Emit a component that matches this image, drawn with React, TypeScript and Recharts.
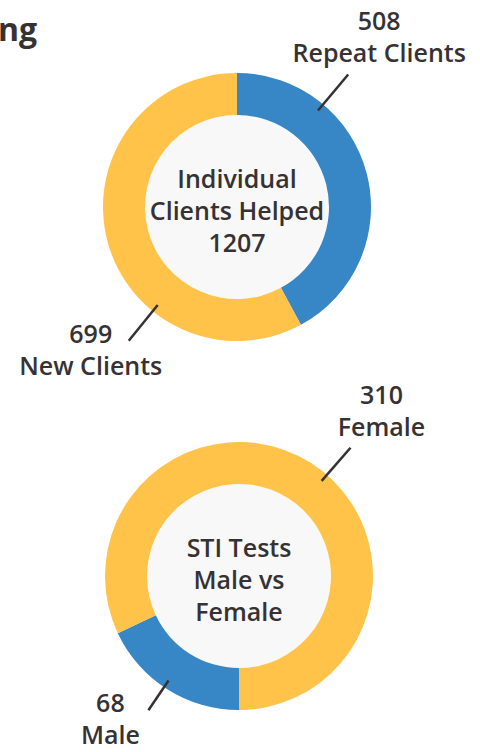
import React from 'react';
import { PieChart, Pie, Cell } from 'recharts';

const clientLabels = ['Repeat Clients', 'New Clients'];
const clientValues = [508, 699];
const clientTotal = 1207;

const stiLabels = ['Male', 'Female'];
const stiValues = [68, 310];

const BLUE = '#3786c6';
const YELLOW = '#ffc34a';
const TEXT = '#363233';
const FONT = '"Open Sans", sans-serif';

// label leader angles (degrees clockwise from 12 o'clock) and outer ends
const clientLabelAngles = [40, 219];
const clientLabelEnds = [173, 172];
const stiLabelAngles = [214, 41];
const stiLabelEnds = [162, 170];

const clientData = clientLabels.map((name, i) => ({ name, value: clientValues[i] }));
const stiData = stiLabels.map((name, i) => ({ name, value: stiValues[i] }));

const makeLabel = (angles: number[], ends: number[]) => (props: any) => {
  const { cx, cy, index, name, value } = props;
  const a = (angles[index] * Math.PI) / 180;
  const x1 = cx + 126 * Math.sin(a);
  const y1 = cy - 126 * Math.cos(a);
  const x2 = cx + ends[index] * Math.sin(a);
  const y2 = cy - ends[index] * Math.cos(a);
  const right = angles[index] < 180;
  const tx = right ? x2 + 31 : x2 - 38;
  const ty1 = right ? y2 - 54 : y2 - 8;
  const ty2 = right ? y2 - 22 : y2 + 24;
  return (
    <g>
      <line x1={x1} y1={y1} x2={x2} y2={y2} stroke={TEXT} strokeWidth={2.5} />
      <text x={tx} y={ty1} textAnchor="middle" dominantBaseline="central" fill={TEXT}
        style={{ fontFamily: FONT, fontWeight: 600, fontSize: 25 }}>{value}</text>
      <text x={tx} y={ty2} textAnchor="middle" dominantBaseline="central" fill={TEXT}
        style={{ fontFamily: FONT, fontWeight: 600, fontSize: 25 }}>{name}</text>
    </g>
  );
};

const CenterText: React.FC<{ x: number; y: number; lines: string[] }> = ({ x, y, lines }) => (
  <div
    style={{
      position: 'absolute', left: x - 92, top: y - 92, width: 184, height: 184, borderRadius: '50%',
      background: '#f8f8f8', display: 'flex', flexDirection: 'column', alignItems: 'center',
      justifyContent: 'center', fontFamily: FONT, fontWeight: 600, fontSize: 25, color: TEXT,
      lineHeight: '32px', textAlign: 'center', whiteSpace: 'nowrap', boxSizing: 'border-box', paddingTop: 5,
    }}
  >
    {lines.map((l, i) => <div key={i}>{l}</div>)}
  </div>
);

export default function App() {
  return (
    <div style={{ position: 'absolute', left: 0, top: 0, width: 480, height: 752, background: '#fff', overflow: 'hidden' }}>
      <div style={{ position: 'absolute', left: -2, top: 7, fontFamily: FONT, fontWeight: 700, fontSize: 32, color: TEXT }}>ng</div>
      <CenterText x={237} y={207} lines={['Individual', 'Clients Helped', String(clientTotal)]} />
      <CenterText x={239} y={576} lines={['STI Tests', 'Male vs', 'Female']} />
      <div style={{ position: 'absolute', left: 0, top: 0 }}>
        <PieChart width={480} height={752} margin={{ top: 0, right: 0, bottom: 0, left: 0 }}>
          <Pie data={clientData} dataKey="value" nameKey="name" cx={237} cy={207} innerRadius={92} outerRadius={134}
            startAngle={90} endAngle={-270} stroke="none" isAnimationActive={false}
            label={makeLabel(clientLabelAngles, clientLabelEnds)} labelLine={false}>
            <Cell fill={BLUE} />
            <Cell fill={YELLOW} />
          </Pie>
          <Pie data={stiData} dataKey="value" nameKey="name" cx={239} cy={576} innerRadius={92} outerRadius={134}
            startAngle={-90} endAngle={-450} stroke="none" isAnimationActive={false}
            label={makeLabel(stiLabelAngles, stiLabelEnds)} labelLine={false}>
            <Cell fill={BLUE} />
            <Cell fill={YELLOW} />
          </Pie>
        </PieChart>
      </div>
    </div>
  );
}
